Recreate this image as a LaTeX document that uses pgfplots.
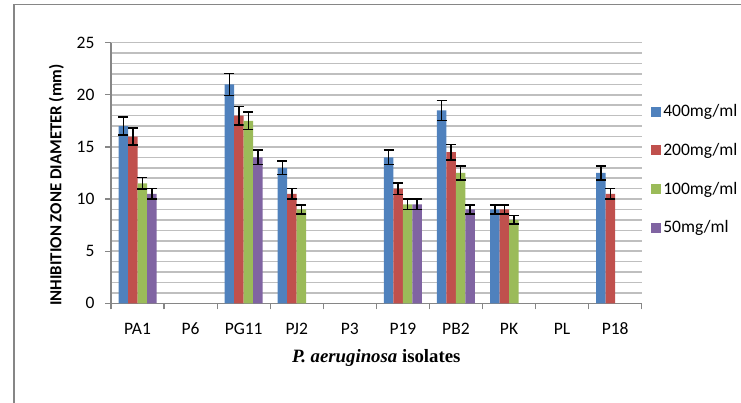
\documentclass[border=0pt]{standalone}
\usepackage{pgfplots}
\pgfplotsset{compat=1.18}
\usepackage{fontspec}
\setmainfont{Carlito}
\newfontfamily\timesfont{Liberation Serif}
\definecolor{cBlue}{HTML}{4F81BD}
\definecolor{cRed}{HTML}{C0504D}
\definecolor{cGreen}{HTML}{9BBB59}
\definecolor{cPurple}{HTML}{8064A2}
\definecolor{cGrid}{HTML}{BFBFBF}
\definecolor{cAxis}{HTML}{868686}
\begin{document}
\begin{tikzpicture}
\path[use as bounding box] (0,0) rectangle (741pt,403pt);
\draw[cAxis, line width=1.2pt] (14pt,-20pt) -- (14pt,398.7pt) -- (760pt,398.7pt);
\begin{axis}[
  at={(111pt,99.7pt)}, anchor=south west,
  scale only axis, width=530.7pt, height=260.6pt,
  ybar=0pt, bar width=9.5pt,
  xmin=-0.5, xmax=9.5, ymin=0, ymax=25,
  xtick={0,...,9},
  xticklabels={PA1,P6,PG11,PJ2,P3,P19,PB2,PK,PL,P18},
  minor xtick={-0.5,0.5,...,9.5},
  major x tick style={draw=none},
  minor x tick style={cAxis, line width=1.2pt},
  ytick={0,5,...,25},
  minor ytick={0,1,...,25},
  ymajorgrids, yminorgrids,
  major grid style={cGrid, line width=1.5pt},
  minor grid style={cGrid, line width=1.5pt},
  axis x line*=bottom, axis y line*=left,
  axis line style={cAxis, line width=1.2pt, -},
  tick align=outside,
  major tick length=6pt, minor tick length=6pt,
  minor y tick style={draw=none},
  major y tick style={cAxis, line width=1.2pt},
  tick label style={font=\fontsize{17.5}{21}\selectfont},
  /pgf/number format/assume math mode=true,
  yticklabel style={anchor=east, xshift=-7pt},
  xticklabel style={anchor=base, yshift=-25pt},
  xlabel={\timesfont\bfseries\itshape P. aeruginosa\/\upshape\ isolates},
  xlabel style={font=\fontsize{18.8}{22}\selectfont, at={(axis description cs:0.5,-0.21)}, anchor=center},
  ylabel={\bfseries INHIBITION ZONE DIAMETER (mm)},
  ylabel style={font=\fontsize{16.8}{20}\selectfont, at={(axis description cs:-0.103,0.454)}, anchor=center},
  legend style={at={(1.012,0.513)}, anchor=west, draw=none, fill=none,
    font=\fontsize{17.5}{21}\selectfont, row sep=21pt,
    /tikz/every odd column/.append style={column sep=0pt}},
  legend cell align=left,
  legend image code/.code={\fill[#1] (0pt,-5pt) rectangle (10pt,5pt);},
  error bars/y dir=both, error bars/y explicit,
  error bars/error bar style={black, line width=1.5pt},
  error bars/error mark options={rotate=90, black, mark size=5pt, line width=1.5pt},
]
\addplot[fill=cBlue, draw=none] coordinates {
 (0,17) +- (0,0.85) (2,21) +- (0,1.05) (3,13) +- (0,0.65) (5,14) +- (0,0.7)
 (6,18.5) +- (0,0.95) (7,9) +- (0,0.45) (9,12.5) +- (0,0.65)};
\addplot[fill=cRed, draw=none] coordinates {
 (0,16) +- (0,0.8) (2,18) +- (0,0.9) (3,10.5) +- (0,0.5) (5,11) +- (0,0.55)
 (6,14.5) +- (0,0.75) (7,9) +- (0,0.45) (9,10.5) +- (0,0.5)};
\addplot[fill=cGreen, draw=none] coordinates {
 (0,11.5) +- (0,0.55) (2,17.5) +- (0,0.85) (3,9) +- (0,0.45) (5,9.5) +- (0,0.5)
 (6,12.5) +- (0,0.65) (7,8) +- (0,0.4)};
\addplot[fill=cPurple, draw=none] coordinates {
 (0,10.5) +- (0,0.5) (2,14) +- (0,0.7) (5,9.5) +- (0,0.5) (6,9) +- (0,0.45)};
\legend{400mg/ml,200mg/ml,100mg/ml,50mg/ml}
\end{axis}
\end{tikzpicture}
\end{document}
